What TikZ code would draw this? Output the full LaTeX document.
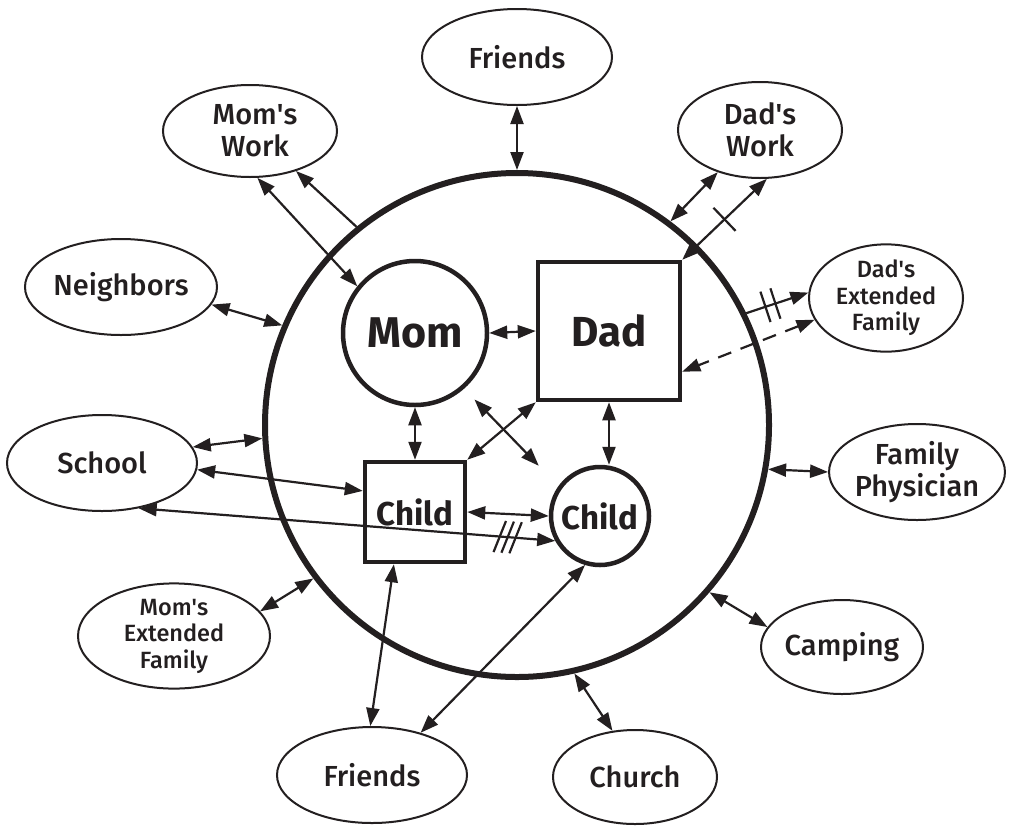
\documentclass[tikz,border=0pt]{standalone}
\usepackage{fontspec}
\setmainfont{Fira Sans}[UprightFont={* Medium},BoldFont={* Bold}]
\usetikzlibrary{arrows.meta,decorations.markings,calc,shapes.geometric}
\definecolor{ink}{RGB}{35,31,32}
\newcommand{\apos}{\textquotesingle}
\begin{document}
\begin{tikzpicture}[x=1pt,y=-1pt,
  >={Triangle[length=18pt,width=13pt]},
  outer/.style={ellipse, draw=ink, line width=2pt, inner sep=0pt, text=ink, align=center,
    font=\fontsize{29}{32}\selectfont},
  small/.style={font=\fontsize{23.5}{26.5}\selectfont},
  big/.style={circle, draw=ink, line width=6pt, minimum size=504pt, inner sep=0pt},
  icirc/.style={circle, draw=ink, line width=4.5pt, inner sep=0pt, text=ink},
  isq/.style={rectangle, draw=ink, line width=4.5pt, inner sep=0pt, text=ink},
  conn/.style={draw=ink, line width=2.2pt},
  both/.style={conn, <->},
  tickone/.style={postaction={decorate,decoration={markings,
     mark=at position 0.5 with {\draw[ink,line width=2.2pt,-] (0pt,-16pt) -- (0pt,16pt);}}}},
  ticktwo/.style={postaction={decorate,decoration={markings,
     mark=at position 0.31 with {\draw[ink,line width=2.2pt,-] (0pt,-16pt) -- (0pt,16pt);},
     mark=at position 0.47 with {\draw[ink,line width=2.2pt,-] (0pt,-16pt) -- (0pt,16pt);}}}},
  tickthree/.style={postaction={decorate,decoration={markings,
     mark=at position 0.867 with {\draw[ink,line width=2.2pt,-] (-5pt,-16pt) -- (5pt,16pt);},
     mark=at position 0.886 with {\draw[ink,line width=2.2pt,-] (-5pt,-16pt) -- (5pt,16pt);},
     mark=at position 0.905 with {\draw[ink,line width=2.2pt,-] (-5pt,-16pt) -- (5pt,16pt);}}}}
]
\useasboundingbox (0,0) rectangle (1024,825);
\fill[white] (0,0) rectangle (1024,825);

% main circle and family members
\node[big] (B) at (517,425) {};
\node[icirc, minimum size=144pt, font=\fontsize{43}{46}\bfseries] (M) at (415,333) {Mom};
\node[isq, minimum width=142pt, minimum height=138pt, font=\fontsize{42}{46}\bfseries] (D) at (609,331) {Dad};
\node[isq, minimum size=100pt, font=\fontsize{33}{36}\bfseries] (CS) at (415,512) {Child};
\node[icirc, minimum size=98pt, font=\fontsize{33}{36}\bfseries] (CC) at (600,516) {Child};

% outer systems
\node[outer, minimum width=190pt, minimum height=96pt] (F1) at (517,57) {Friends};
\node[outer, minimum width=174pt, minimum height=92pt] (MW) at (250,131) {\hspace*{10pt}Mom\apos s\\\hspace*{10pt}Work};
\node[outer, minimum width=164pt, minimum height=96pt] (DW) at (760,130) {Dad\apos s\\Work};
\node[outer, minimum width=192pt, minimum height=96pt] (N) at (121,287) {Neighbors};
\node[outer, small, minimum width=154pt, minimum height=96pt] (DE) at (886,298) {Dad\apos s\\Extended\\Family};
\node[outer, minimum width=190pt, minimum height=96pt] (S) at (102,463) {School};
\node[outer, minimum width=164pt, minimum height=96pt] (FP) at (917,472) {Family\\Physician};
\node[outer, small, minimum width=192pt, minimum height=96pt] (ME) at (174,636) {Mom\apos s\\Extended\\Family};
\node[outer, minimum width=160pt, minimum height=94pt] (CA) at (842,647) {Camping};
\node[outer, minimum width=190pt, minimum height=96pt] (F2) at (372,775) {Friends};
\node[outer, minimum width=164pt, minimum height=94pt] (CH) at (635,777) {Church};

% connectors
\draw[both] (F1.south) -- (B.north);
\draw[both] (MW.-81) -- (M.141);
\draw[conn,->] (B.129) -- (MW.-41);
\draw[both] (B.53) -- (DW.-135);
\draw[both,tickone] (D.north east) -- (DW.-82);
\draw[both] (N.-11) -- (B.157);
\draw[conn,->,ticktwo] (B.26) -- (DE.176);
\draw[both,dash pattern=on 14pt off 10pt] (DE.197) -- (D.-29);
\draw[both] (M.east) -- (D.west);
\draw[both] (M.south) -- (CS.north);
\draw[both] (D.south) -- (D.south |- CC.north);
\draw[both] (D.south west) -- (CS.north east);
\draw[both] ([shift={(7,14)}]M.-45) -- ([shift={(-25,-14)}]CC.135);
\draw[both] (S.10) -- (B.183);
\draw[both] (S.-4) -- (CS.158);
\draw[both,tickthree] (S.-51) -- (CC.209);
\draw[both] (CS.east) -- (CC.west);
\draw[both] (ME.16) -- (B.217);
\draw[both] (CS.248) -- (F2.92);
\draw[both] (CC.253) -- (F2.41);
\draw[both] (B.-77) -- (CH.116);
\draw[both] (B.-41) -- (CA.165);
\draw[both] (B.-10) -- (FP.180);
\end{tikzpicture}
\end{document}
